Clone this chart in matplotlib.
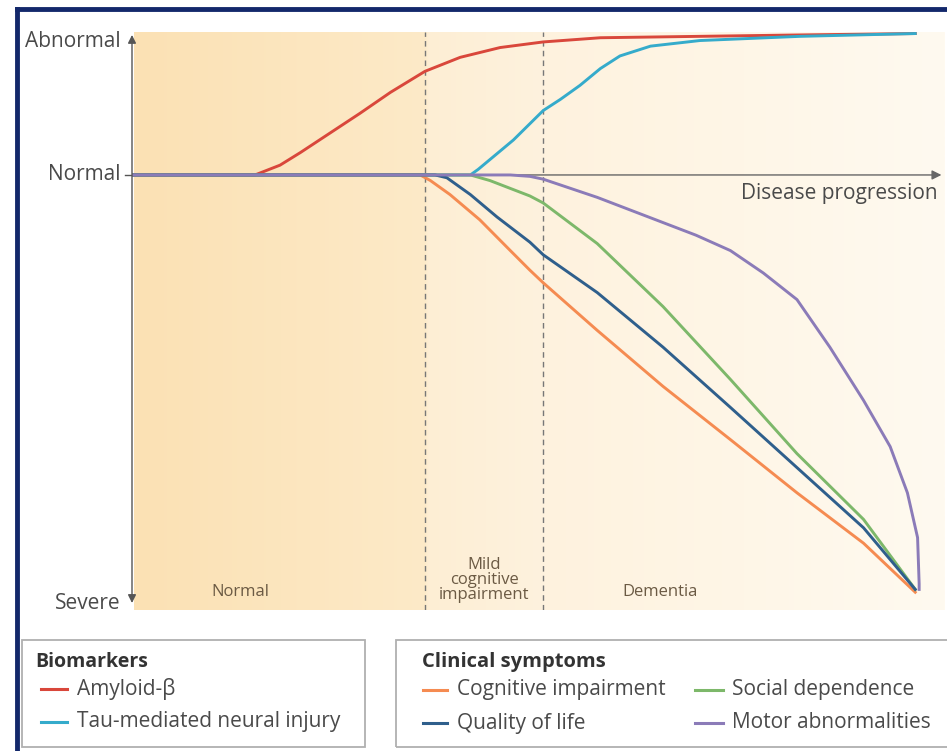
import numpy as np
import matplotlib
matplotlib.use('Agg')
import matplotlib.pyplot as plt
from matplotlib.patches import Rectangle
from matplotlib.lines import Line2D

plt.rcParams['font.family'] = ['Open Sans', 'DejaVu Sans']

# progression (0 = start, 100 = end) and level (0 = normal, 1 = abnormal, -3 = severe)
amyloid_x = [0, 15.7, 18.9, 21.5, 25.3, 29.1, 33.0, 37.4, 41.9, 47.0, 52.5, 59.8, 72.5, 85.3, 100]
amyloid_y = [0, 0, 0.07, 0.16, 0.30, 0.44, 0.59, 0.74, 0.84, 0.91, 0.95, 0.98, 0.99, 1.0, 1.01]

tau_x = [0, 43.2, 44.2, 45.7, 48.7, 52.5, 54.7, 57.2, 59.8, 62.3, 66.2, 72.5, 85.3, 100]
tau_y = [0, 0, 0.04, 0.11, 0.25, 0.46, 0.54, 0.64, 0.76, 0.85, 0.92, 0.96, 0.99, 1.01]

cognitive_x = [0, 36.8, 38.1, 40.6, 44.4, 48.3, 50.8, 52.5, 59.4, 67.8, 76.4, 84.9, 93.4, 100]
cognitive_y = [0, 0, -0.04, -0.14, -0.32, -0.54, -0.68, -0.77, -1.11, -1.51, -1.89, -2.27, -2.63, -2.98]

quality_x = [0, 38.7, 40.2, 43.2, 46.6, 50.8, 52.5, 59.4, 67.8, 76.4, 84.9, 93.4, 100]
quality_y = [0, 0, -0.02, -0.14, -0.30, -0.48, -0.57, -0.84, -1.23, -1.66, -2.09, -2.52, -2.96]

social_x = [0, 43.2, 45.7, 50.8, 52.5, 59.4, 67.8, 76.4, 84.9, 93.4, 100]
social_y = [0, 0, -0.04, -0.15, -0.20, -0.49, -0.94, -1.46, -1.99, -2.46, -2.96]

motor_x = [0, 48.3, 50.8, 52.5, 59.4, 67.8, 72.0, 76.4, 80.6, 84.9, 89.1, 93.4, 96.8, 99.0, 100.3, 100.5, 100.5]
motor_y = [0, 0, -0.01, -0.03, -0.16, -0.34, -0.43, -0.54, -0.70, -0.89, -1.23, -1.61, -1.94, -2.27, -2.59, -2.92, -2.96]

stage_bounds = [37.4, 52.5]
stage_names = ['Normal', 'Mild\ncognitive\nimpairment', 'Dementia']
stage_label_x = [13.8, 45.0, 67.4]

c_amyloid = '#d9473b'
c_tau = '#35abcb'
c_cog = '#f58b51'
c_quality = '#2f5f8c'
c_social = '#7db86a'
c_motor = '#8b7bb8'
txt = '#4a4a4a'

W, H = 947, 751
fig = plt.figure(figsize=(W / 100, H / 100), dpi=100)


def fx(px):
    return px / W


def fy(py):
    return 1 - py / H


ax = fig.add_axes([fx(132), fy(610), fx(945) - fx(132), fy(32) - fy(610)])
xmax = 103.8
ax.set_xlim(0, xmax)
ax.set_ylim(-3.107, 1.021)
for s in ax.spines.values():
    s.set_visible(False)
ax.set_xticks([])
ax.set_yticks([])

# background shading, warmer on the left
gx = np.linspace(0, xmax, 400)
r = np.interp(gx, [0, 37.4, 37.5, 52.5, xmax], [251, 253, 253, 254, 255])
g = np.interp(gx, [0, 37.4, 37.5, 52.5, xmax], [225, 234, 238, 242, 250])
b = np.interp(gx, [0, 37.4, 37.5, 52.5, xmax], [180, 200, 212, 222, 240])
grad = np.dstack([r, g, b])[0][None, :, :] / 255.0
ax.imshow(grad, extent=[0.3, xmax, -3.107, 1.021], aspect='auto', zorder=0)

for xb in stage_bounds:
    ax.plot([xb, xb], [-3.107, 1.021], color='#777777', lw=1, ls=(0, (4, 3)), zorder=1)

lw = 2.1
ax.plot(amyloid_x, amyloid_y, color=c_amyloid, lw=lw, zorder=3)
ax.plot(tau_x, tau_y, color=c_tau, lw=lw, zorder=3)
ax.plot(cognitive_x, cognitive_y, color=c_cog, lw=lw, zorder=3)
ax.plot(social_x, social_y, color=c_social, lw=lw, zorder=3)
ax.plot(quality_x, quality_y, color=c_quality, lw=lw, zorder=3)
ax.plot(motor_x, motor_y, color=c_motor, lw=lw, zorder=3)

# axes arrows
ax.annotate('', xy=(xmax - 0.1, 0), xytext=(0, 0),
            arrowprops=dict(arrowstyle='-|>', color='#666666', lw=1, mutation_scale=14),
            zorder=2, annotation_clip=False)
ax.annotate('', xy=(0, 1.0), xytext=(0, -3.057),
            arrowprops=dict(arrowstyle='<|-|>', color='#555555', lw=1, mutation_scale=12,
                            shrinkA=0, shrinkB=0),
            zorder=4, annotation_clip=False)
ax.plot([-0.9, 0], [0, 0], color='#555555', lw=1, clip_on=False)

ax.text(-1.5, 0.95, 'Abnormal', ha='right', va='center', fontsize=15, color=txt)
ax.text(-1.5, 0.0, 'Normal', ha='right', va='center', fontsize=15, color=txt)
ax.text(-1.5, -3.06, 'Severe', ha='right', va='center', fontsize=15, color=txt)
ax.text(102.8, -0.13, 'Disease progression', ha='right', va='center', fontsize=15, color=txt)

ax.text(stage_label_x[0], -2.98, stage_names[0], ha='center', va='center', fontsize=12, color='#6b5a44')
ax.text(stage_label_x[1], -2.89, stage_names[1], ha='center', va='center', fontsize=12,
        color='#6b5a44', linespacing=0.92)
ax.text(stage_label_x[2], -2.98, stage_names[2], ha='center', va='center', fontsize=12, color='#6b5a44')

# outer frame (left and top)
fig.add_artist(Line2D([fx(17), fx(17)], [fy(9), 0], color='#13286b', lw=3.5))
fig.add_artist(Line2D([fx(17), 1], [fy(9), fy(9)], color='#13286b', lw=3.5))

# legend boxes
fig.add_artist(Rectangle((fx(22), fy(747)), fx(365) - fx(22), fy(640) - fy(747),
                         fill=False, ec='#b0b0b0', lw=1.3))
fig.add_artist(Rectangle((fx(396), fy(747)), fx(960) - fx(396), fy(640) - fy(747),
                         fill=False, ec='#b0b0b0', lw=1.3))

fig.text(fx(35), fy(662), 'Biomarkers', ha='left', va='center', fontsize=14, fontweight='bold', color='#333333')
fig.text(fx(422), fy(662), 'Clinical symptoms', ha='left', va='center', fontsize=14.5, fontweight='bold', color='#333333')

legend_items = [
    (41, 67, 77, 689, c_amyloid, 'Amyloid-β'),
    (41, 67, 77, 722, c_tau, 'Tau-mediated neural injury'),
    (423, 447, 457, 690, c_cog, 'Cognitive impairment'),
    (423, 447, 457, 723, c_quality, 'Quality of life'),
    (695, 723, 732, 690, c_social, 'Social dependence'),
    (695, 723, 732, 723, c_motor, 'Motor abnormalities'),
]
for x0, x1, xt, yy, col, lab in legend_items:
    fig.add_artist(Line2D([fx(x0), fx(x1)], [fy(yy), fy(yy)], color=col, lw=2.2))
    fig.text(fx(xt), fy(yy), lab, ha='left', va='center', fontsize=15, color=txt)

fig.savefig('out.png', dpi=100)
